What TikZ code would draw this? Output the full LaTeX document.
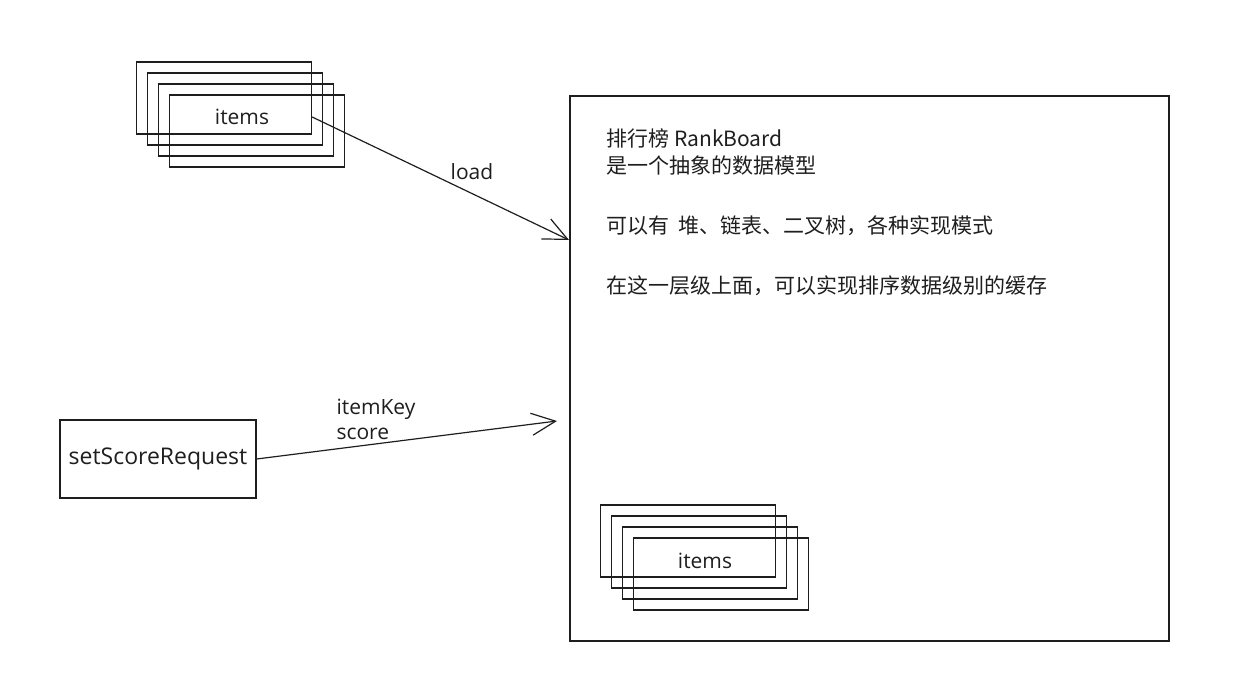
\documentclass[tikz,border=0pt]{standalone}
\usepackage{fontspec}
\setmainfont{Open Sans}
\newfontfamily\cjk{Noto Sans CJK SC}
\usepackage{xcolor}
\definecolor{inkcolor}{RGB}{30, 30, 30}
\usepackage{tikz}
\usetikzlibrary{arrows.meta, positioning}

\begin{document}
\begin{tikzpicture}[
    x=1pt, y=-1pt,
    sketch/.style={draw=inkcolor, line width=1.3pt},
    stackbox/.style={sketch, minimum width=175pt, minimum height=72pt, inner sep=0pt},
    link/.style={draw=inkcolor, line width=1.2pt, -{Straight Barb[length=24pt,width=22pt]}},
    lbl/.style={text=inkcolor, font=\fontsize{21}{25}\selectfont}
  ]
  \useasboundingbox (0,0) rectangle (1239,692);
  % stacks of items
  \foreach \i in {0,...,3} {
    \node[stackbox] (top\i) at ({224+11*\i},{98+11*\i}) {};
    \node[stackbox] (bot\i) at ({688+11*\i},{541+11*\i}) {};
  }
  \node[lbl] (topitems) at (242,117) {items};
  \node[lbl] (botitems) at (705,561) {items};
  % the rank board
  \node[sketch, minimum width=599pt, minimum height=545pt] (board) at (869.5,368.5) {};
  \node[anchor=north west, align=left, text=inkcolor,
        font=\cjk\fontsize{21}{27}\selectfont] (desc) at (603,125)
    {排行榜 RankBoard\\
     是一个抽象的数据模型\\[33pt]
     可以有\ \ 堆、链表、二叉树，各种实现模式\\[33pt]
     在这一层级上面，可以实现排序数据级别的缓存};
  \node[sketch, lbl, font=\fontsize{23}{25}\selectfont, minimum width=196pt, minimum height=78pt] (request) at (158,459) {setScoreRequest};
  \coordinate (loadend) at (569,240);
  \coordinate (scoreend) at (557,421);
  \node[lbl] (loadlbl) at (472,172) {load};
  \node[lbl, align=left, anchor=west] (scorelbl) at (333,419) {itemKey\\score};
  \path
    (top0.east |- topitems) edge[link] (loadend)
    (request.east) edge[link] (scoreend)
    ;
\end{tikzpicture}
\end{document}
